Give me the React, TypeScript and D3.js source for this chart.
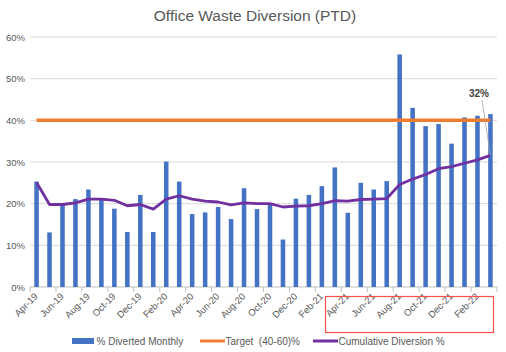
import React from 'react'
import * as d3 from 'd3'

const months = [
  'Apr-19', 'May-19', 'Jun-19', 'Jul-19', 'Aug-19', 'Sep-19', 'Oct-19', 'Nov-19', 'Dec-19',
  'Jan-20', 'Feb-20', 'Mar-20', 'Apr-20', 'May-20', 'Jun-20', 'Jul-20', 'Aug-20', 'Sep-20',
  'Oct-20', 'Nov-20', 'Dec-20', 'Jan-21', 'Feb-21', 'Mar-21', 'Apr-21', 'May-21', 'Jun-21',
  'Jul-21', 'Aug-21', 'Sep-21', 'Oct-21', 'Nov-21', 'Dec-21', 'Jan-22', 'Feb-22', 'Mar-22',
]

// % diverted each month
const monthly = [
  25.3, 13.1, 19.9, 21.1, 23.4, 21.3, 18.8, 13.2, 22.1,
  13.2, 30.1, 25.3, 17.5, 17.9, 19.2, 16.3, 23.7, 18.7,
  19.9, 11.4, 21.2, 22.1, 24.2, 28.7, 17.8, 25.0, 23.4,
  25.4, 55.8, 43.0, 38.6, 39.1, 34.4, 40.7, 41.1, 41.5,
]

// cumulative diversion (PTD)
const cumulative = [
  25.1, 19.8, 19.8, 20.2, 21.1, 21.1, 20.8, 19.5, 19.8,
  18.7, 21.1, 21.9, 21.1, 20.6, 20.4, 19.7, 20.2, 20.0,
  20.0, 19.2, 19.4, 19.5, 20.0, 20.7, 20.6, 21.0, 21.1,
  21.2, 24.6, 25.9, 27.0, 28.4, 28.9, 29.7, 30.5, 31.6,
]

const target = 40
const yTicks = [0, 10, 20, 30, 40, 50, 60]
const legendItems = ['% Diverted Monthly', 'Target  (40-60)%', 'Cumulative Diversion %']

const W = 506
const H = 352
const font = 'Liberation Sans, Arial, sans-serif'
const textColor = '#595959'

const App: React.FC = () => {
  const x = d3.scaleBand<string>().domain(months).range([30, 497]).paddingInner(0.65).paddingOuter(0.33)
  const step = (497 - 30) / months.length
  const y = d3.scaleLinear().domain([0, 60]).range([287, 37])

  const cx = (m: string) => (x(m) as number) + x.bandwidth() / 2

  const line = d3
    .line<number>()
    .x((_, i) => cx(months[i]))
    .y((d) => y(d))

  const last = months.length - 1

  return (
    <svg width={W} height={H} style={{ display: 'block', position: 'absolute', left: 0, top: 0 }} fontFamily={font}>
      <rect width={W} height={H} fill="#fff" />
      <text x={255} y={21} textAnchor="middle" fontSize={15.5} fill={textColor}>
        Office Waste Diversion (PTD)
      </text>

      {yTicks.map((t) => (
        <g key={t}>
          <line x1={30} x2={497} y1={y(t)} y2={y(t)} stroke={t === 0 ? '#bfbfbf' : '#d9d9d9'} strokeWidth={1} />
          <text x={25} y={y(t) + 3.5} textAnchor="end" fontSize={9.5} fill={textColor}>
            {t}%
          </text>
        </g>
      ))}

      {/* tick marks every two months */}
      {d3.range(0, months.length + 1, 2).map((i) => (
        <line key={i} x1={30 + i * step} x2={30 + i * step} y1={287} y2={292} stroke="#bfbfbf" />
      ))}

      {monthly.map((v, i) => (
        <rect
          key={months[i]}
          x={x(months[i])}
          y={y(v)}
          width={x.bandwidth()}
          height={y(0) - y(v)}
          fill="#4472C4"
        />
      ))}

      <line x1={cx(months[0])} x2={cx(months[last])} y1={y(target)} y2={y(target)} stroke="#ED7D31" strokeWidth={3.5} />

      <path d={line(cumulative) || ''} fill="none" stroke="#7030A0" strokeWidth={2.8} strokeLinejoin="round" />

      {/* data label for the last cumulative value */}
      <line x1={482} y1={100} x2={cx(months[last])} y2={y(cumulative[last])} stroke="#a6a6a6" strokeWidth={0.8} />
      <text x={479} y={97} textAnchor="middle" fontSize={10} fontWeight="bold" fill="#404040">
        {Math.round(cumulative[last])}%
      </text>

      {months.map((m, i) =>
        i % 2 === 0 ? (
          <text
            key={m}
            transform={`translate(${cx(m) + 2},${297}) rotate(-45)`}
            textAnchor="end"
            fontSize={9.5}
            fill={textColor}
          >
            {m}
          </text>
        ) : null,
      )}

      {/* highlight box */}
      <rect x={325.5} y={296.5} width={168} height={36} fill="none" stroke="#FF5050" strokeWidth={1.2} />

      <g fontSize={10} fill={textColor}>
        <rect x={72} y={338} width={22} height={6} fill="#4472C4" />
        <text x={96.5} y={344.5}>{legendItems[0]}</text>
        <line x1={200} x2={225} y1={341} y2={341} stroke="#ED7D31" strokeWidth={3} />
        <text x={225.5} y={344.5} style={{ whiteSpace: 'pre' }}>{legendItems[1]}</text>
        <line x1={313} x2={338} y1={341} y2={341} stroke="#7030A0" strokeWidth={3} />
        <text x={338.5} y={344.5}>{legendItems[2]}</text>
      </g>
    </svg>
  )
}

export default App
